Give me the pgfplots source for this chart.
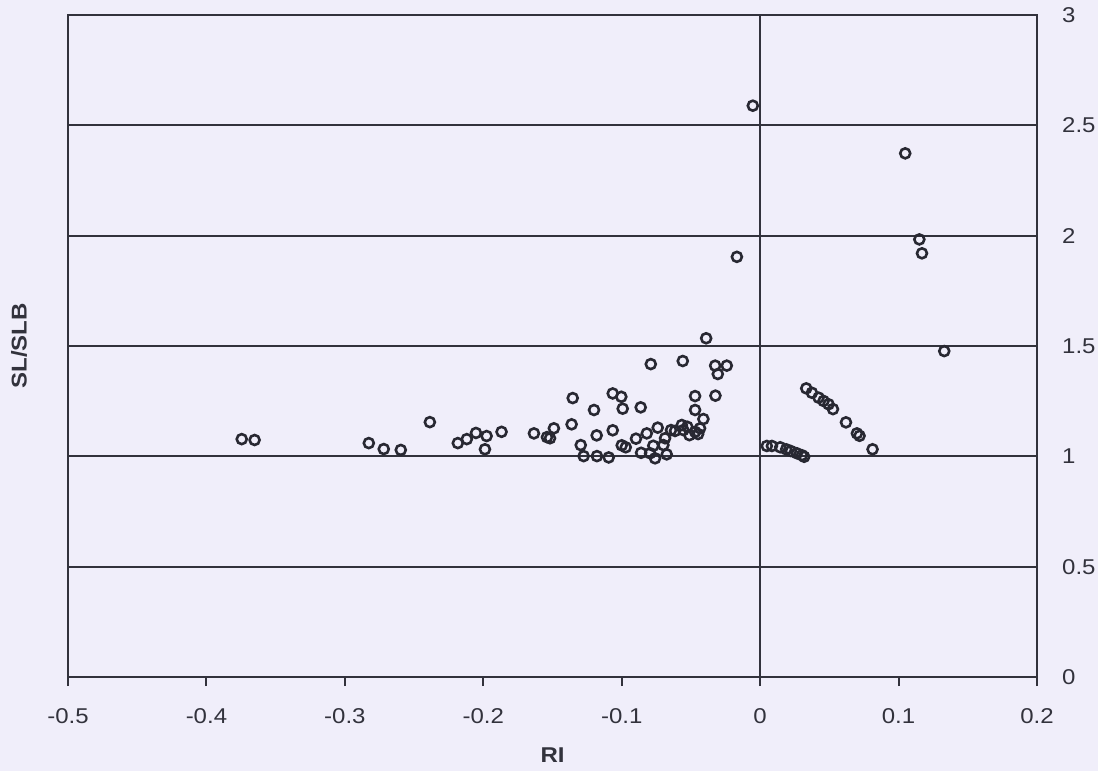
\documentclass[border=0pt]{standalone}
\usepackage{pgfplots}
\pgfplotsset{compat=1.18}
\usepackage{pgfplotstable}
\usepackage{fontspec}
\setmainfont{Liberation Sans}[FakeStretch=1.12]
\usetikzlibrary{calc,backgrounds}

\definecolor{paper}{RGB}{240,238,250}
\definecolor{ink}{RGB}{50,50,60}
\definecolor{markink}{RGB}{40,40,50}

% RI against SL/SLB
\pgfplotstableread{
x y
-0.3745 1.078
-0.3652 1.074
-0.2827 1.060
-0.2719 1.033
-0.2596 1.029
-0.2386 1.155
-0.2184 1.060
-0.2119 1.078
-0.2053 1.106
-0.1976 1.092
-0.1988 1.032
-0.1868 1.111
-0.1634 1.104
-0.1518 1.082
-0.1490 1.127
-0.1540 1.087
-0.1354 1.264
-0.1362 1.145
-0.1200 1.210
-0.1296 1.051
-0.1275 1.001
-0.1181 1.095
-0.1179 1.001
-0.1094 0.995
-0.1065 1.285
-0.1003 1.270
-0.0993 1.216
-0.1065 1.118
-0.0863 1.222
-0.0790 1.418
-0.1000 1.050
-0.0971 1.041
-0.0897 1.080
-0.0860 1.016
-0.0819 1.104
-0.0740 1.130
-0.0772 1.048
-0.0795 1.014
-0.0759 0.991
-0.0699 1.051
-0.0675 1.009
-0.0687 1.082
-0.0644 1.119
-0.0615 1.115
-0.0566 1.142
-0.0559 1.432
-0.0526 1.134
-0.0511 1.096
-0.0555 1.119
-0.0470 1.273
-0.0470 1.210
-0.0410 1.169
-0.0434 1.127
-0.0470 1.111
-0.0390 1.535
-0.0325 1.411
-0.0241 1.411
-0.0306 1.373
-0.0323 1.275
-0.0448 1.101
-0.0053 2.589
-0.0168 1.904
0.1048 2.373
0.1150 1.983
0.1169 1.920
0.1330 1.477
0.0333 1.308
0.0374 1.288
0.0422 1.266
0.0458 1.251
0.0494 1.236
0.0526 1.214
0.0620 1.154
0.0699 1.104
0.0718 1.093
0.0812 1.032
0.0048 1.047
0.0085 1.047
0.0145 1.041
0.0188 1.032
0.0222 1.024
0.0265 1.014
0.0302 1.005
0.0318 0.998
}\ridata

\begin{document}
\begin{tikzpicture}
\begin{axis}[
  name=ax,
  scale only axis,
  width=969bp, height=662bp,
  xmin=-0.5, xmax=0.2,
  ymin=0, ymax=3,
  xtick={-0.5,-0.4,...,0.2},
  ytick={0,0.5,...,3},
  xticklabels={-0.5,-0.4,-0.3,-0.2,-0.1,0,0.1,0.2},
  yticklabels={0,0.5,1,1.5,2,2.5,3},
  /pgf/number format/assume math mode=true,
  axis line style={draw=ink, line width=1.9bp},
  ymajorgrids,
  major grid style={draw=ink, line width=1.7bp},
  xtick style={draw=ink, line width=1.9bp},
  ytick style={draw=none},
  x tick label style={font=\fontsize{21.5}{24}\selectfont, text=ink, anchor=north, inner sep=0pt, yshift=-22bp},
  yticklabel pos=right,
  y tick label style={font=\fontsize{21.5}{24}\selectfont, text=ink, anchor=west, inner sep=0pt, xshift=16bp},
  tick align=outside,
  xtick pos=bottom,
  major tick length=9bp,
  xlabel={RI},
  ylabel={SL/SLB},
  label style={font=\bfseries\fontsize{21.5}{24}\selectfont, text=ink},
  xlabel style={at={(rel axis cs:0.5,0)}, anchor=center, yshift=-78bp},
  ylabel style={at={(rel axis cs:0,0.5)}, anchor=center, yshift=49bp},
  clip=false,
]
\draw[ink, line width=1.9bp] (axis cs:0,0) -- (axis cs:0,3);
\addplot[only marks, mark=o, mark size=5bp,
  mark options={draw=markink, line width=2.6bp}] table[x=x, y=y] {\ridata};
\end{axis}
\pgfresetboundingbox
\begin{pgfonlayer}{background}
\fill[paper] ($(ax.south west)+(-68bp,-94bp)$) rectangle ($(ax.north east)+(61bp,15bp)$);
\end{pgfonlayer}
\useasboundingbox ($(ax.south west)+(-68bp,-94bp)$) rectangle ($(ax.north east)+(61bp,15bp)$);
\end{tikzpicture}
\end{document}
